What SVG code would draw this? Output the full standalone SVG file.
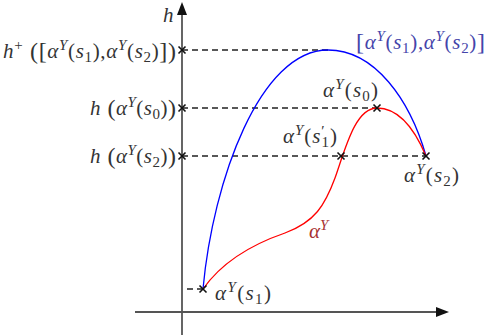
<svg xmlns="http://www.w3.org/2000/svg" width="486" height="335" viewBox="0 0 486 335">
<defs>
<style>
.ax{stroke:#555;stroke-width:1.8;fill:none}
.dash{stroke:#222;stroke-width:1.3;stroke-dasharray:6,4;fill:none}
.cr{stroke:#111;stroke-width:1.6}
.t{font-family:"Liberation Serif","Times New Roman",serif;font-size:21px;fill:#333}
.i{font-style:italic}
.sp{font-size:15px;font-style:italic}
.sb{font-size:15px}
.bp{font-size:24px}
</style>
<g id="x"><line class="cr" x1="-3.5" y1="-3.5" x2="3.5" y2="3.5"/><line class="cr" x1="-3.5" y1="3.5" x2="3.5" y2="-3.5"/></g>
</defs>
<g id="axes">
<line class="ax" x1="135" y1="312" x2="438" y2="312"/>
<polygon points="449,312 436,307 436,317" fill="#111"/>
<line class="ax" x1="182" y1="335" x2="182" y2="14"/>
<polygon points="182,2 177,15 187,15" fill="#111"/>
</g>
<g id="connectors">
<line class="dash" x1="182" y1="50" x2="328" y2="50"/>
<line class="dash" x1="182" y1="108" x2="377" y2="108"/>
<line class="dash" x1="182" y1="156" x2="426" y2="156"/>
<line class="dash" x1="187" y1="289" x2="203" y2="289"/>
</g>
<g id="blue-curve">
<path d="M203,289 C213,180 260,50 328,50 C375,50 410,100 426,156" stroke="#0000ff" stroke-width="1.3" fill="none"/>
</g>
<g id="red-curve">
<path d="M203,289 C222,262 250,245 285,233 C315,222 325,205 335,178 C345,150 355,108 377,108 C400,108 415,130 426,156" stroke="#ff0000" stroke-width="1.3" fill="none"/>
</g>
<g id="marks">
<use href="#x" x="182" y="50"/>
<use href="#x" x="182" y="108"/>
<use href="#x" x="182" y="156"/>
<use href="#x" x="203" y="289"/>
<use href="#x" x="377" y="108"/>
<use href="#x" x="341" y="156"/>
<use href="#x" x="426" y="156"/>
</g>
<g id="labels">
<text class="t i" x="163" y="22">h</text>
<text class="t" x="176" y="58" text-anchor="end" textLength="173"><tspan class="i">h</tspan><tspan class="sb" dy="-8">+</tspan><tspan class="bp" dy="9"> ([</tspan><tspan class="i" dy="-1">α</tspan><tspan class="sp" dy="-8">Y</tspan><tspan dy="8">(</tspan><tspan class="i">s</tspan><tspan class="sb" dy="4">1</tspan><tspan dy="-4">),</tspan><tspan class="i">α</tspan><tspan class="sp" dy="-8">Y</tspan><tspan dy="8">(</tspan><tspan class="i">s</tspan><tspan class="sb" dy="4">2</tspan><tspan dy="-4">)</tspan><tspan class="bp" dy="1">])</tspan></text>
<text class="t" x="176" y="115" text-anchor="end" textLength="86"><tspan class="i">h</tspan><tspan class="bp" dy="1"> (</tspan><tspan class="i" dy="-1">α</tspan><tspan class="sp" dy="-8">Y</tspan><tspan dy="8">(</tspan><tspan class="i">s</tspan><tspan class="sb" dy="4">0</tspan><tspan dy="-4">)</tspan><tspan class="bp" dy="1">)</tspan></text>
<text class="t" x="176" y="163" text-anchor="end" textLength="86"><tspan class="i">h</tspan><tspan class="bp" dy="1"> (</tspan><tspan class="i" dy="-1">α</tspan><tspan class="sp" dy="-8">Y</tspan><tspan dy="8">(</tspan><tspan class="i">s</tspan><tspan class="sb" dy="4">2</tspan><tspan dy="-4">)</tspan><tspan class="bp" dy="1">)</tspan></text>
<text class="t" x="356" y="49" textLength="129" style="fill:#4444aa"><tspan class="bp" dy="1">[</tspan><tspan class="i" dy="-1">α</tspan><tspan class="sp" dy="-8">Y</tspan><tspan dy="8">(</tspan><tspan class="i">s</tspan><tspan class="sb" dy="4">1</tspan><tspan dy="-4">),</tspan><tspan class="i">α</tspan><tspan class="sp" dy="-8">Y</tspan><tspan dy="8">(</tspan><tspan class="i">s</tspan><tspan class="sb" dy="4">2</tspan><tspan dy="-4">)</tspan><tspan class="bp" dy="1">]</tspan></text>
<text class="t" x="323" y="97" textLength="55"><tspan class="i">α</tspan><tspan class="sp" dy="-8">Y</tspan><tspan dy="8">(</tspan><tspan class="i">s</tspan><tspan class="sb" dy="4">0</tspan><tspan dy="-4">)</tspan></text>
<text class="t" x="283" y="143" textLength="54"><tspan class="i">α</tspan><tspan class="sp" dy="-8">Y</tspan><tspan dy="8">(</tspan><tspan class="i">s</tspan><tspan class="sb" dy="-7">′</tspan><tspan class="sb" dx="-4" dy="11">1</tspan><tspan dy="-4">)</tspan></text>
<text class="t" x="404" y="182" textLength="55"><tspan class="i">α</tspan><tspan class="sp" dy="-8">Y</tspan><tspan dy="8">(</tspan><tspan class="i">s</tspan><tspan class="sb" dy="4">2</tspan><tspan dy="-4">)</tspan></text>
<text class="t" x="215" y="300" textLength="56"><tspan class="i">α</tspan><tspan class="sp" dy="-8">Y</tspan><tspan dy="8">(</tspan><tspan class="i">s</tspan><tspan class="sb" dy="4">1</tspan><tspan dy="-4">)</tspan></text>
<text class="t" x="309" y="238" style="fill:#a83232"><tspan class="i">α</tspan><tspan class="sp" dy="-8">Y</tspan></text>
</g>
</svg>
